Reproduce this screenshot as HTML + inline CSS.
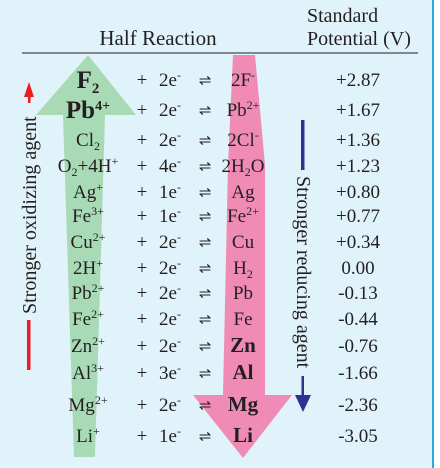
<!DOCTYPE html>
<html><head><meta charset="utf-8"><style>
html,body{margin:0;padding:0;width:440px;height:468px;overflow:hidden;background:#fff}
svg{display:block;font-family:"Liberation Serif",serif;fill:#231f20}
</style></head><body>
<svg width="440" height="468" viewBox="0 0 440 468">
<rect x="0" y="0" width="433" height="468" fill="#e0f2fa"/>
<rect x="432" y="0" width="2" height="468" fill="#29a9e0"/>
<text x="158" y="45" font-size="21" text-anchor="middle">Half Reaction</text>
<text x="307" y="22" font-size="20">Standard</text>
<text x="307" y="45" font-size="20">Potential (V)</text>
<line x1="22" y1="53" x2="418" y2="53" stroke="#231f20" stroke-width="1"/>
<polygon points="88,55 136,115 105,115 95,457 74,457 63,115 36,115" fill="#a9dab6"/>
<polygon points="233,55 255,55 265,165 265,395 292,395 243,458 193,395 223,395 228,165" fill="#f08bb6"/>
<g>
<polygon points="29,82 24,97 34,97" fill="#ed1c24"/>
<rect x="28" y="95" width="2.5" height="8" fill="#ed1c24"/>
<text transform="translate(36,314) rotate(-90)" font-size="20">Stronger oxidizing agent</text>
<rect x="27" y="320" width="3.5" height="50" fill="#ed1c24"/>
</g>
<g>
<rect x="301" y="120" width="3.5" height="50" fill="#2e3192"/>
<text transform="translate(297,176) rotate(90)" font-size="20">Stronger reducing agent</text>
<rect x="301.5" y="376" width="2.5" height="24" fill="#2e3192"/>
<polygon points="303,412 295,395 311,395" fill="#2e3192"/>
</g>
<g id="rows" font-size="19"></g>
</svg>
<script>
const oxidants=["F<tspan font-size='15' dy='5'>2</tspan>","Pb<tspan font-size='14' dy='-8'>4+</tspan>","Cl<tspan font-size='12' dy='4'>2</tspan>","O<tspan font-size='12' dy='4'>2</tspan><tspan dy='-4'>+4H</tspan><tspan font-size='12' dy='-7'>+</tspan>","Ag<tspan font-size='12' dy='-7'>+</tspan>","Fe<tspan font-size='12' dy='-7'>3+</tspan>","Cu<tspan font-size='12' dy='-7'>2+</tspan>","2H<tspan font-size='12' dy='-7'>+</tspan>","Pb<tspan font-size='12' dy='-7'>2+</tspan>","Fe<tspan font-size='12' dy='-7'>2+</tspan>","Zn<tspan font-size='12' dy='-7'>2+</tspan>","Al<tspan font-size='12' dy='-7'>3+</tspan>","Mg<tspan font-size='12' dy='-7'>2+</tspan>","Li<tspan font-size='12' dy='-7'>+</tspan>"];
const electrons=["2","2","2","4","1","1","2","2","2","2","2","3","2","1"];
const products=["2F<tspan font-size='12' dy='-7'>-</tspan>","Pb<tspan font-size='12' dy='-7'>2+</tspan>","2Cl<tspan font-size='12' dy='-7'>-</tspan>","2H<tspan font-size='12' dy='4'>2</tspan><tspan dy='-4'>O</tspan>","Ag","Fe<tspan font-size='12' dy='-7'>2+</tspan>","Cu","H<tspan font-size='12' dy='4'>2</tspan>","Pb","Fe","Zn","Al","Mg","Li"];
const potentials=["+2.87","+1.67","+1.36","+1.23","+0.80","+0.77","+0.34","0.00","-0.13","-0.44","-0.76","-1.66","-2.36","-3.05"];
const rowY=[80,110,140,166,192,216,242,268,293,319,346,373,405,436];
const g=document.getElementById('rows');
function t(x,y,html,extra){const e=document.createElementNS('http://www.w3.org/2000/svg','text');e.setAttribute('x',x);e.setAttribute('y',y+6);e.setAttribute('text-anchor','middle');if(extra)for(const k in extra)e.setAttribute(k,extra[k]);e.innerHTML=html;g.appendChild(e);return e;}
for(let i=0;i<potentials.length;i++){
 const y=rowY[i];
 const big=i<2;
 const ox=t(88,y+(big?2:0),oxidants[i],big?{'font-size':'25','font-weight':'bold'}:null);
 
 
 const p=t(142,y,'+');
 
 
 const el=t(170,y,electrons[i]+"e<tspan font-size='12' dy='-7'>-</tspan>");
 
 
 const eq=t(205,y-1,'⇌',{'font-size':'15'});
 
 
 const pr=t(243,y,products[i],i>=10?{'font-weight':'bold','font-size':'21'}:null);
 
 
 const v=t(358,y,potentials[i]);
 
 
}
</script>
</body></html>
